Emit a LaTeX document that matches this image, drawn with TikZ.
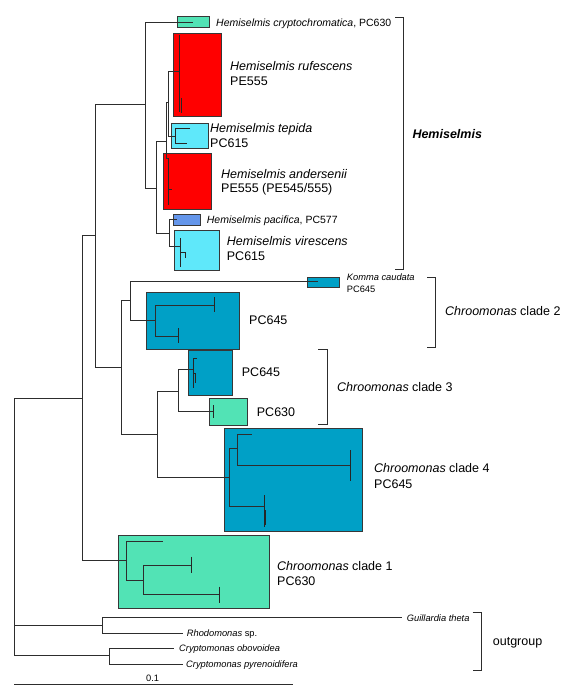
\documentclass[tikz,border=0pt]{standalone}
\usepackage{fontspec}
\setmainfont{Liberation Sans}
\definecolor{mint}{RGB}{82,227,181}
\definecolor{hred}{RGB}{255,0,0}
\definecolor{lcyan}{RGB}{95,232,250}
\definecolor{pblue}{RGB}{100,150,235}
\definecolor{cteal}{RGB}{0,160,198}
\definecolor{linec}{RGB}{45,45,45}
\definecolor{boxc}{RGB}{55,55,55}
\begin{document}
\begin{tikzpicture}[x=1pt,y=-1pt,
  br/.style={draw=linec, line width=1pt},
  inl/.style={draw=black!85, line width=1pt},
  cbox/.style={draw=boxc, line width=1pt},
  brk/.style={draw=linec, line width=1pt},
  lab/.style={anchor=base west, inner sep=0pt, font=\fontsize{12.5}{14}\selectfont},
  slab/.style={anchor=base west, inner sep=0pt, font=\fontsize{10.5}{12}\selectfont},
  olab/.style={anchor=base west, inner sep=0pt, font=\fontsize{9.3}{11}\selectfont}]
\useasboundingbox (0,0) rectangle (578,700);
\fill[white] (0,0) rectangle (578,700);

% ---------- boxes ----------
\draw[cbox, fill=mint]  (177.3,16.7) rectangle (209.3,27.3);
\draw[cbox, fill=hred]  (173.3,33.3) rectangle (221.7,116.7);
\draw[cbox, fill=lcyan] (171.7,124) rectangle (208.3,148.3);
\draw[cbox, fill=hred]  (163.3,153.3) rectangle (211,210);
\draw[cbox, fill=pblue] (173.3,215) rectangle (200,225.7);
\draw[cbox, fill=lcyan] (174.3,230.7) rectangle (219.3,270);
\draw[cbox, fill=cteal] (307,277) rectangle (339,287);
\draw[cbox, fill=cteal] (146.7,292) rectangle (239,349);
\draw[cbox, fill=cteal] (188.3,350.7) rectangle (232.7,395);
\draw[cbox, fill=mint]  (209.3,398.3) rectangle (247.7,425.7);
\draw[cbox, fill=cteal] (224.3,428.3) rectangle (362.7,531.7);
\draw[cbox, fill=mint]  (118,535.7) rectangle (269.3,608.3);

% ---------- tree nodes ----------
\coordinate (R) at (14.3,398);
\coordinate (N82) at (82.3,398);
\coordinate (N96) at (95.7,235.7);
\coordinate (H1) at (145.7,105);
\coordinate (Lcr) at (192.7,22.7);
\coordinate (H2) at (156.7,188.3);
\coordinate (B) at (166,142);
\coordinate (A) at (168.3,103);
\coordinate (Ruf) at (179.3,71.7);
\coordinate (Tep) at (175,136.7);
\coordinate (And) at (167.7,158.3);
\coordinate (H4) at (169,234);
\coordinate (Pac) at (177.3,220);
\coordinate (Vir) at (180,246.7);
\coordinate (N122) at (121.7,367);
\coordinate (C2) at (130.7,300);
\coordinate (Kom) at (318,281.7);
\coordinate (C2b) at (155,320);
\coordinate (C2x) at (214,305);
\coordinate (C2y) at (178,336);
\coordinate (C34) at (157.7,434);
\coordinate (C3) at (178.3,391);
\coordinate (C3a) at (193.3,369);
\coordinate (C3b) at (213.3,411.7);
\coordinate (C4) at (229.3,477.3);
\coordinate (C4a) at (237.7,448.3);
\coordinate (C4x) at (251.7,434.3);
\coordinate (C4y) at (350,465);
\coordinate (C4b) at (264,506.7);
\coordinate (C1) at (126.7,560);
\coordinate (C1x) at (163.3,541.7);
\coordinate (C1b) at (143.3,580);
\coordinate (C1y) at (191.7,565);
\coordinate (C1z) at (219.3,594.3);
\coordinate (GR) at (102.7,625);
\coordinate (Gui) at (401.7,617.7);
\coordinate (Rho) at (182.7,633.3);
\coordinate (CR) at (109.3,655.7);
\coordinate (Obo) at (174,648.3);
\coordinate (Pyr) at (182.7,664.3);

% ---------- branches ----------
\draw[br] (R) -- (N82);
\draw[br] (R) |- (GR);
\draw[br] (R) |- (CR);
\draw[br] (N82) |- (N96);
\draw[br] (N82) |- (C1);
\draw[br] (N96) |- (H1);
\draw[br] (N96) |- (N122);
\draw[br] (H1) |- (Lcr);
\draw[br] (H1) |- (H2);
\draw[br] (H2) |- (B);
\draw[br] (H2) |- (H4);
\draw[br] (B) |- (A);
\draw[br] (B) |- (And);
\draw[br] (A) |- (Ruf);
\draw[br] (A) |- (Tep);
\draw[br] (H4) |- (Pac);
\draw[br] (H4) |- (Vir);
\draw[br] (N122) |- (C2);
\draw[br] (N122) |- (C34);
\draw[br] (C2) |- (Kom);
\draw[br] (C2) |- (C2b);
\draw[br] (C2b) |- (C2x);
\draw[br] (C2b) |- (C2y);
\draw[br] (C34) |- (C3);
\draw[br] (C34) |- (C4);
\draw[br] (C3) |- (C3a);
\draw[br] (C3) |- (C3b);
\draw[br] (C4) |- (C4a);
\draw[br] (C4) |- (C4b);
\draw[br] (C4a) |- (C4x);
\draw[br] (C4a) |- (C4y);
\draw[br] (C1) |- (C1x);
\draw[br] (C1) |- (C1b);
\draw[br] (C1b) |- (C1y);
\draw[br] (C1b) |- (C1z);
\draw[br] (GR) |- (Gui);
\draw[br] (GR) |- (Rho);
\draw[br] (CR) |- (Obo);
\draw[br] (CR) |- (Pyr);

% ---------- collapsed clade interiors ----------
\draw[inl] (179.3,35) -- (179.3,111.7);
\draw[inl] (181.5,98) -- (181.5,113);
\draw[inl] (190,128.3) -| (175,144) -- (186.7,144);
\draw[inl] (168.5,158.3) -- (168.5,205);
\draw[inl] (168.5,190) -- (171.5,190);
\draw[inl] (180,238.3) -- (180,266.7);
\draw[inl] (180,252.7) -- (185.7,252.7) -- (185.7,258);
\draw[inl] (214,297) -- (214,312);
\draw[inl] (178,328) -- (178,343);
\draw[inl] (197,358) -| (193.3,388);
\draw[inl] (193.3,373) -- (195.5,373) -- (195.5,383);
\draw[inl] (213.3,405) -- (213.3,418);
\draw[inl] (350,450) -- (350,480.7);
\draw[inl] (264,495) -- (264,526.7);
\draw[inl] (265.5,510) -- (265.5,525);
\draw[inl] (191.7,556.7) -- (191.7,572.7);
\draw[inl] (219.3,586.7) -- (219.3,602.7);

% ---------- brackets ----------
\draw[brk] (395,17.3) -- (403.3,17.3) -- (403.3,269.3) -- (395,269.3);
\draw[brk] (427,277) -- (435,277) -- (435,347) -- (427,347);
\draw[brk] (318,349.3) -- (327.7,349.3) -- (327.7,424.3) -- (318,424.3);
\draw[brk] (472.7,612.7) -- (481.7,612.7) -- (481.7,670) -- (472.7,670);

% ---------- scale bar ----------
\coordinate (SB1) at (14.3,684.3);
\coordinate (SB2) at (293.3,684.3);
\draw[br] (SB1) -- (SB2);
\node[olab, anchor=base] (sbl) at (152.7,681.5) {0.1};

% ---------- labels ----------
\node[slab] (tcr) at (216,26.5) {\textit{Hemiselmis cryptochromatica}, PC630};
\node[lab] (truf) at (230,71) {\textit{Hemiselmis rufescens}};
\node[lab] (truf2) at (230,85.5) {PE555};
\node[lab] (ttep) at (210,132.5) {\textit{Hemiselmis tepida}};
\node[lab] (ttep2) at (210,148) {PC615};
\node[lab] (tand) at (221,178.3) {\textit{Hemiselmis andersenii}};
\node[lab] (tand2) at (221,192.5) {PE555 (PE545/555)};
\node[slab] (tpac) at (206.7,224) {\textit{Hemiselmis pacifica}, PC577};
\node[lab] (tvir) at (226.7,245) {\textit{Hemiselmis virescens}};
\node[lab] (tvir2) at (226.7,260) {PC615};
\node[olab] (tkom) at (346.7,280) {\textit{Komma caudata}};
\node[olab] (tkom2) at (346.7,292) {PC645};
\node[lab] (tc2) at (249,324.3) {PC645};
\node[lab] (tc3a) at (241.7,376.7) {PC645};
\node[lab] (tc3b) at (256.7,416) {PC630};
\node[lab] (tc4) at (374,472.5) {\textit{Chroomonas} clade 4};
\node[lab] (tc4b) at (374,488) {PC645};
\node[lab] (tc1) at (277,570) {\textit{Chroomonas} clade 1};
\node[lab] (tc1b) at (277,585) {PC630};
\node[lab] (thm) at (412.3,138.5) {\textbf{\textit{Hemiselmis}}};
\node[lab] (tcl2) at (445,315) {\textit{Chroomonas} clade 2};
\node[lab] (tcl3) at (337,391) {\textit{Chroomonas} clade 3};
\node[olab] (tgui) at (406.7,621.5) {\textit{Guillardia theta}};
\node[olab] (trho) at (186.7,636.5) {\textit{Rhodomonas} sp.};
\node[olab] (tobo) at (179,651.5) {\textit{Cryptomonas obovoidea}};
\node[olab] (tpyr) at (186,667) {\textit{Cryptomonas pyrenoidifera}};
\node[lab] (tout) at (492.7,645) {outgroup};
\end{tikzpicture}
\end{document}
